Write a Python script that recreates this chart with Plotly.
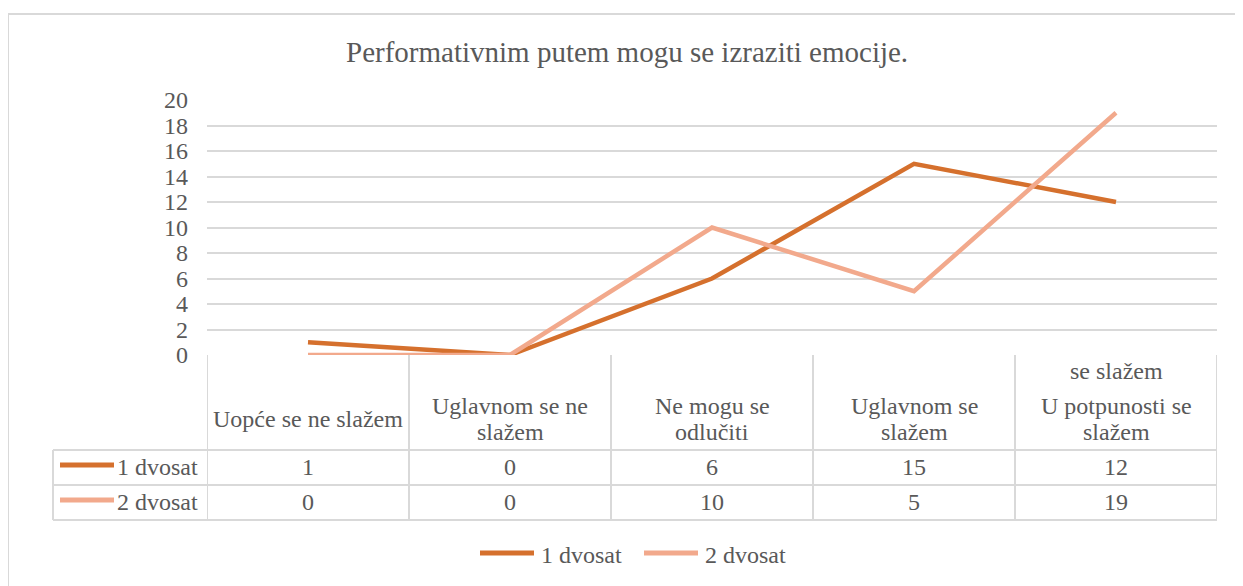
import plotly.graph_objects as go

# ---- data ----
title_text = "Performativnim putem mogu se izraziti emocije."
categories = ["Uopće se ne slažem", "Uglavnom se ne<br>slažem", "Ne mogu se<br>odlučiti",
              "Uglavnom se<br>slažem", "U potpunosti se<br>slažem"]
overflow_text = "se slažem"  # stray text shown above the last category label
series_names = ["1 dvosat", "2 dvosat"]
series_1 = [1, 0, 6, 15, 12]
series_2 = [0, 0, 10, 5, 19]
y_ticks = [0, 2, 4, 6, 8, 10, 12, 14, 16, 18, 20]

# ---- styles ----
W, H = 1243, 586
OFF = 8  # page body margin offset
colors = ["#D5702D", "#F2A98C"]
grid_col = "#D9D9D9"
txt_col = "#595959"
FONT = "Liberation Serif"
FS = 24

def PX(x):
    return (x - OFF) / W

def PY(y):
    return 1 - (y - OFF) / H

plot_l, plot_r, plot_t, plot_b = 207, 1217, 100, 355
hdr_b, row1_b, row2_b = 450, 485, 520
key_l = 53

fig = go.Figure()
xs = list(range(len(categories)))
for name, vals, col in zip(series_names, [series_1, series_2], colors):
    fig.add_trace(go.Scatter(x=xs, y=vals, mode="lines", name=name,
                             line=dict(color=col, width=4.5), showlegend=False,
                             hoverinfo="x+y"))

shapes = []
ann = []
line_style = dict(color=grid_col, width=2)
# outer chart border
shapes.append(dict(type="rect", xref="paper", yref="paper", x0=PX(8), x1=PX(1260),
                   y0=PY(610), y1=PY(14), line=dict(color=grid_col, width=2)))
# table verticals at category boundaries
for i in range(len(categories) + 1):
    shapes.append(dict(type="line", xref="x", yref="paper", x0=i - 0.5, x1=i - 0.5,
                       y0=PY(plot_b), y1=PY(row2_b), line=line_style))
# key column left border
shapes.append(dict(type="line", xref="paper", yref="paper", x0=PX(key_l), x1=PX(key_l),
                   y0=PY(hdr_b), y1=PY(row2_b), line=line_style))
# horizontals
for yy in [hdr_b, row1_b, row2_b]:
    shapes.append(dict(type="line", xref="paper", yref="paper", x0=PX(key_l), x1=PX(plot_r),
                       y0=PY(yy), y1=PY(yy), line=line_style))

# header category labels
for i, cat in enumerate(categories):
    parts = cat.split("<br>")
    n = len(parts)
    for j, p in enumerate(parts):
        yc = 419 + (j - (n - 1) / 2) * 26
        ann.append(dict(x=i, xref="x", y=PY(yc), yref="paper", text=p, showarrow=False,
                        xanchor="center", yanchor="middle",
                        font=dict(family=FONT, size=FS, color=txt_col)))
ann.append(dict(x=len(categories) - 1, xref="x", y=PY(371), yref="paper", text=overflow_text,
                showarrow=False, xanchor="center", yanchor="middle",
                font=dict(family=FONT, size=FS, color=txt_col)))

# table value rows with keys
row_centers = [467, 502]
for r, (name, vals, col) in enumerate(zip(series_names, [series_1, series_2], colors)):
    yc = row_centers[r]
    for i, v in enumerate(vals):
        ann.append(dict(x=i, xref="x", y=PY(yc), yref="paper", text=str(v), showarrow=False,
                        xanchor="center", yanchor="middle",
                        font=dict(family=FONT, size=FS, color=txt_col)))
    shapes.append(dict(type="line", xref="paper", yref="paper", x0=PX(60), x1=PX(114),
                       y0=PY(yc - 2), y1=PY(yc - 2), line=dict(color=col, width=5)))
    ann.append(dict(x=PX(200), xref="paper", y=PY(yc), yref="paper", text=name,
                    showarrow=False, xanchor="right", yanchor="middle",
                    font=dict(family=FONT, size=FS, color=txt_col)))

# bottom legend
leg_x = [480, 644]
for name, col, lx in zip(series_names, colors, leg_x):
    shapes.append(dict(type="line", xref="paper", yref="paper", x0=PX(lx), x1=PX(lx + 54),
                       y0=PY(553), y1=PY(553), line=dict(color=col, width=5)))
    ann.append(dict(x=PX(lx + 59), xref="paper", y=PY(555), yref="paper", text=name,
                    showarrow=False, xanchor="left", yanchor="middle",
                    font=dict(family=FONT, size=FS, color=txt_col)))

# title
ann.append(dict(x=PX(627), xref="paper", y=PY(52), yref="paper", text=title_text,
                showarrow=False, xanchor="center", yanchor="middle",
                font=dict(family=FONT, size=29, color=txt_col)))

fig.update_layout(
    width=W, height=H, margin=dict(l=0, r=0, t=0, b=0, autoexpand=False),
    paper_bgcolor="white", plot_bgcolor="white",
    font=dict(family=FONT, color=txt_col),
    shapes=shapes, annotations=ann,
    xaxis=dict(domain=[PX(plot_l), PX(plot_r)], range=[-0.5, len(categories) - 0.5],
               showticklabels=False, showgrid=False, zeroline=False, showline=False,
               automargin=False),
    yaxis=dict(domain=[PY(plot_b), PY(plot_t)], range=[0, 20], tickvals=y_ticks,
               showgrid=True, gridcolor=grid_col, gridwidth=2, zeroline=False, showline=False,
               ticklabelstandoff=18, automargin=False,
               tickfont=dict(family=FONT, size=FS, color=txt_col)),
)

fig.write_html("out.html")
